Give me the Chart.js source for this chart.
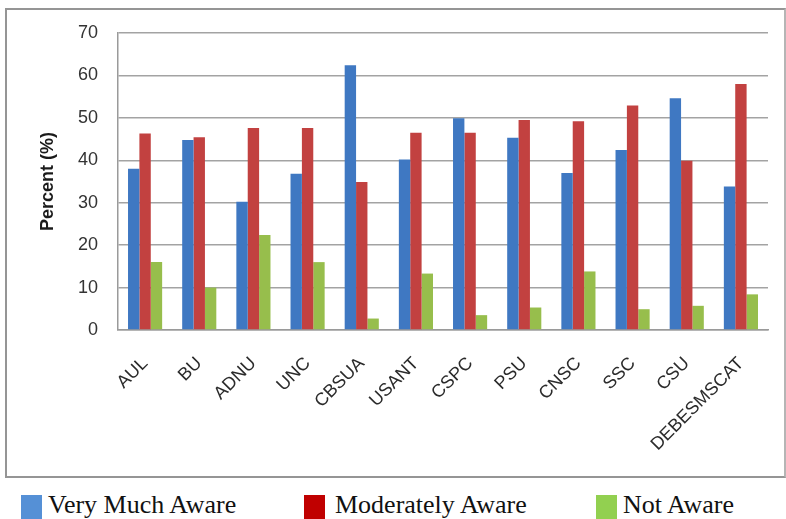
<!DOCTYPE html>
<html lang="en">
<head>
    <meta charset="UTF-8">
    <title>Awareness by Institution</title>
    <script src="https://cdn.jsdelivr.net/npm/chart.js"></script>
    <style>
        body { margin: 0; background: #fff; width: 786px; height: 519px; position: relative; overflow: hidden; }
        #frame { position: absolute; left: 5px; top: 8px; width: 781px; height: 470px; box-sizing: border-box; border: 2px solid #959595; border-right-color: #b5b5b5; }
        #chartBox { position: absolute; left: 0; top: 0; }
        .legend-item { position: absolute; top: 490px; font-family: "Liberation Serif", serif; font-size: 26px; color: #111; line-height: 30px; white-space: nowrap; }
        .legend-item span.sw { position: absolute; left: 0; top: 5px; width: 21px; height: 25px; }
        .legend-item span.tx { position: absolute; }
    </style>
</head>
<body>

    <!-- Cornice del grafico -->
    <div id="frame"></div>

    <div id="chartBox">
        <canvas id="awareChart" width="786" height="480"></canvas>
    </div>

    <!-- Legenda sotto la cornice -->
    <div id="legend"></div>

    <script>
        // Dati del grafico
        const institutions = ['AUL', 'BU', 'ADNU', 'UNC', 'CBSUA', 'USANT', 'CSPC', 'PSU', 'CNSC', 'SSC', 'CSU', 'DEBESMSCAT'];
        const veryMuchAware = [38.0, 44.8, 30.2, 36.8, 62.4, 40.2, 49.9, 45.3, 37.0, 42.4, 54.6, 33.8];
        const moderatelyAware = [46.3, 45.4, 47.6, 47.6, 34.9, 46.5, 46.5, 49.5, 49.2, 52.9, 39.9, 58.0];
        const notAware = [16.0, 10.0, 22.4, 16.0, 2.7, 13.3, 3.5, 5.3, 13.8, 4.9, 5.7, 8.4];
        const yTicks = [0, 10, 20, 30, 40, 50, 60, 70];
        const seriesNames = ['Very Much Aware', 'Moderately Aware', 'Not Aware'];

        // Colori delle barre e dei quadrati della legenda
        const barColors = ['#3f78c2', '#c24140', '#97be4c'];
        const legendColors = ['#5590d6', '#c00000', '#92d050'];

        const ctx = document.getElementById('awareChart').getContext('2d');
        const awareChart = new Chart(ctx, {
            type: 'bar',
            data: {
                labels: institutions,
                datasets: [veryMuchAware, moderatelyAware, notAware].map((values, i) => ({
                    label: seriesNames[i],
                    data: values,
                    backgroundColor: barColors[i],
                    borderWidth: 0,
                    barPercentage: 1,
                    categoryPercentage: 0.63
                }))
            },
            options: {
                responsive: false,
                animation: false,
                layout: {
                    padding: { top: 33, right: 18, left: 0, bottom: 0 }
                },
                plugins: {
                    legend: { display: false },
                    tooltip: { enabled: false }
                },
                scales: {
                    x: {
                        grid: { display: false, drawTicks: false },
                        border: { display: true, color: '#9a9a9a', width: 1.5 },
                        ticks: {
                            autoSkip: false,
                            minRotation: 45,
                            maxRotation: 45,
                            padding: 23,
                            color: '#2b2b2b',
                            font: { family: 'Liberation Sans', size: 18 }
                        },
                        afterFit: (scale) => { scale.height = 150; }
                    },
                    y: {
                        min: yTicks[0],
                        max: yTicks[yTicks.length - 1],
                        afterBuildTicks: (scale) => { scale.ticks = yTicks.map(v => ({ value: v })); },
                        grid: { color: '#a3a3a3', lineWidth: 1.5, drawTicks: false },
                        border: { display: true, color: '#9a9a9a', width: 1.5 },
                        ticks: {
                            padding: 20,
                            color: '#333',
                            font: { family: 'Liberation Sans', size: 18 }
                        },
                        title: {
                            display: true,
                            text: 'Percent (%)',
                            color: '#1a1a1a',
                            padding: { top: 37, bottom: 0 },
                            font: { family: 'Liberation Sans', size: 18, weight: 'bold' }
                        },
                        afterFit: (scale) => { scale.width = 118; }
                    }
                }
            }
        });

        // Legenda in HTML
        const legendPos = [{ sw: 21, tx: 48 }, { sw: 304, tx: 335 }, { sw: 596, tx: 623 }];
        const legend = document.getElementById('legend');
        seriesNames.forEach((name, i) => {
            const item = document.createElement('div');
            item.className = 'legend-item';
            item.style.left = legendPos[i].sw + 'px';
            item.innerHTML = '<span class="sw" style="background:' + legendColors[i] + '"></span>' +
                '<span class="tx" style="left:' + (legendPos[i].tx - legendPos[i].sw) + 'px">' + name + '</span>';
            legend.appendChild(item);
        });
    </script>

</body>
</html>
